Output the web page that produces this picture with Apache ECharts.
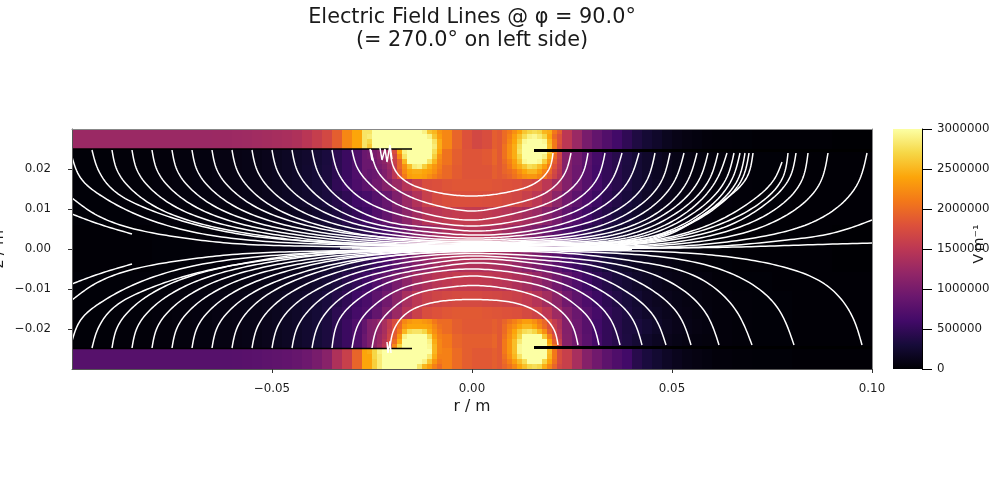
<!DOCTYPE html>
<html><head><meta charset="utf-8">
<style>html,body{margin:0;padding:0;background:#fff}#c{width:1000px;height:500px}</style>
<script src="https://cdn.jsdelivr.net/npm/echarts@6/dist/echarts.min.js"></script>
</head><body><div id="c"></div>
<script>
// field magnitudes are in units of 10 kV/m; line points are in millimetres
const inferno=['#000004','#160b39','#420a68','#6a176e','#932667','#bc3754','#dd513a','#f37819','#fca50a','#f6d746','#fcffa4'];
const xTicks=[-0.05,0,0.05,0.1];
const yTicks=[-0.02,-0.01,0,0.01,0.02];
const cbTicks=[0,500000,1000000,1500000,2000000,2500000,3000000];

const coarseR=[-100,-95,-90,-85,-80,-75,-70,-65,-60,-57.5,-55,-52.5,-50,-47.5,-45,-42.5,-40,-37.5,-35,-32.5,-30,-27.5,-25,-22.5,-20,-17.5,-15,-12.5,-10,-7.5,-5,-2.5,0,2.5,5,7.5,10,12.5,15,17.5,20,22.5,25,27.5,30,32.5,35,37.5,40,42.5,45,47.5,50,52.5,55,57.5,60,65,70,75,80,85,90,95,100];
const coarseZ=[30,25,21,17.5,14.5,10.5,6,0,-5.75,-10.5,-14.5,-17.5,-21.25,-24.75,-30];
const coarseRows=[
[125,125,125,125,125,125,125,126,127,128,130,132,134,136,140,148,158,170,190,220,240,280,310,310,310,310,310,300,250,220,195,180,170,175,190,220,260,300,300,250,200,150,125,100,85,72,60,48,36,28,22,15,11,8,6,4,3,2,1,1,1,1,0,0],
[2,2,3,3,4,5,6,8,9,10,11,13,15,18,21,24,28,33,45,55,70,90,100,120,200,300,320,320,235,205,190,182,182,185,195,230,290,320,300,230,170,110,95,78,62,50,42,35,28,22,17,13,10,8,6,5,4,3,2,2,1,1,1,1],
[2,2,3,3,4,5,6,8,9,10,11,13,15,18,21,25,29,34,45,55,70,90,105,120,190,230,240,240,220,198,188,182,182,182,190,220,250,260,240,190,150,108,92,76,60,50,42,34,28,22,17,13,10,8,6,5,4,3,2,2,1,1,1,1],
[2,2,3,3,4,5,6,8,9,10,11,13,15,18,21,25,29,34,48,57,68,80,95,110,125,145,162,175,178,182,184,184,184,184,182,180,178,172,165,150,130,108,90,75,62,50,42,35,28,22,18,14,11,9,7,6,4,3,2,2,1,1,1,1],
[2,2,3,3,4,5,6,8,9,10,11,13,15,18,21,24,28,33,40,48,58,64,75,88,105,125,142,160,172,176,178,178,178,176,175,172,168,160,150,135,115,95,80,68,56,46,38,32,26,20,16,13,10,8,7,5,4,3,2,2,1,1,1,1],
[2,2,2,3,3,4,5,6,7,8,9,10,12,14,17,20,24,28,34,42,50,58,72,85,100,115,130,145,148,153,156,156,155,153,150,146,140,132,125,112,98,82,70,58,48,40,33,28,22,18,14,11,9,7,6,5,3,2,2,1,1,1,1,1],
[1,1,1,1,2,2,3,4,5,6,7,8,9,11,13,15,18,22,27,32,38,45,55,65,80,95,110,120,130,138,142,145,145,142,138,130,122,112,102,90,78,66,55,45,38,31,26,21,17,14,11,9,7,5,4,3,2,1,1,1,1,1,0,0],
[1,1,1,1,2,2,3,4,5,6,7,8,9,11,13,15,18,22,27,32,38,45,55,65,80,95,110,120,130,136,140,142,142,140,136,130,122,112,102,90,78,66,55,45,38,31,26,21,17,14,11,9,7,5,4,3,2,1,1,1,1,1,0,0],
[2,2,2,3,3,4,5,6,7,8,9,10,12,14,17,20,24,28,34,42,50,58,72,85,100,115,130,140,148,152,156,156,155,153,150,146,140,132,122,110,96,82,70,58,48,40,33,28,22,18,14,11,9,7,6,5,3,2,2,1,1,1,1,1],
[2,2,3,3,4,5,6,8,9,10,11,13,15,18,21,24,28,33,40,48,58,66,80,95,115,135,150,160,166,170,172,172,172,170,168,165,162,155,145,132,115,95,80,68,56,46,38,32,26,20,16,13,10,8,7,5,4,3,2,2,1,1,1,1],
[2,2,3,3,4,5,6,8,9,10,11,13,15,18,21,25,29,34,45,52,62,70,85,105,125,145,162,175,180,184,186,186,186,184,182,180,178,172,165,150,128,106,90,75,62,50,42,35,28,22,18,14,11,9,7,6,4,3,2,2,1,1,1,1],
[2,2,3,3,4,5,6,8,9,10,11,13,15,18,21,25,29,34,45,55,70,85,105,130,180,220,235,235,215,200,190,185,185,185,190,205,220,235,220,185,150,108,92,76,60,50,42,34,33,27,21,16,12,10,8,6,4,3,2,2,1,1,1,1],
[2,2,3,3,4,5,6,8,9,10,11,13,15,18,21,25,29,34,45,55,70,90,110,135,200,300,320,320,235,210,195,190,190,190,195,220,260,320,300,225,170,110,95,78,62,50,42,35,28,22,17,13,10,8,6,5,4,3,2,2,1,1,1,1],
[75,75,75,75,75,75,75,75,76,77,78,80,82,84,87,92,100,112,140,160,195,240,270,300,320,320,320,320,240,215,200,190,185,185,190,205,240,300,300,260,205,160,135,110,95,80,70,60,42,33,26,19,14,10,8,6,4,3,2,2,1,1,1,1]
];

const hotLeftR=[-26.25,-25,-23.75,-22.5,-21.25,-20,-18.75,-17.5,-16.25,-15,-13.75,-12.5,-11.25,-10,-8.75,-7.5];
const hotRightR=[6.25,7.5,8.75,10,11.25,12.5,13.75,15,16.25,17.5,18.75,20,21.25,22.5];
const hotTopZ=[30,28.75,27.5,26.25,25,23.75,22.5,21.25,20,18.75,17.5];
const hotBottomZ=[-17.5,-18.75,-20,-21.25,-22.5,-23.75,-25,-26.25,-27.5,-28.75,-30];
const hotTopLeft=[
[280,300,310,310,310,310,310,310,310,310,310,290,260,250,230],
[285,310,310,310,310,310,310,310,310,310,310,310,290,260,235],
[270,310,310,310,310,310,310,310,310,310,310,310,310,280,245],
[260,300,310,310,310,310,310,310,310,310,310,310,310,285,245],
[95,100,110,125,140,175,240,290,320,320,320,320,320,275,240],
[95,100,110,120,140,165,220,280,320,320,320,320,310,265,225],
[90,95,105,115,130,160,195,250,300,320,320,310,280,250,220],
[90,95,100,110,125,155,195,225,255,285,290,265,245,230,215],
[85,90,95,105,120,150,185,220,240,245,245,240,235,225,210],
[85,90,95,105,120,150,180,210,235,240,240,235,225,215,205]
];
const hotTopRight=[
[185,200,210,225,240,260,270,275,270,250,245,210,190],
[185,200,215,235,255,275,290,295,285,270,240,200,180],
[185,200,220,240,265,295,320,320,320,295,250,210,180],
[185,205,225,245,275,320,320,320,320,300,255,210,175],
[185,205,225,245,280,320,320,320,320,310,260,210,170],
[185,205,225,245,270,320,320,320,320,290,245,200,165],
[185,200,215,235,260,295,305,305,295,265,230,190,160],
[185,195,210,230,245,260,275,270,255,235,210,180,155],
[185,195,200,210,225,240,250,250,235,215,195,170,150],
[185,190,195,205,215,225,230,230,220,205,185,165,145]
];
const hotBottomLeft=[
[105,110,120,135,155,175,195,220,230,235,235,230,225,210,200],
[105,110,120,135,155,180,200,230,240,240,240,240,235,220,205],
[105,110,120,135,160,185,210,250,275,280,280,270,245,225,210],
[105,110,125,140,165,190,230,290,310,320,320,310,275,235,215],
[105,115,125,145,170,200,245,300,320,320,320,320,290,245,220],
[105,115,130,150,170,220,270,320,320,320,320,320,295,250,220],
[245,270,290,305,320,320,320,320,320,320,320,320,300,250,220],
[240,270,285,310,320,320,320,320,320,320,320,320,285,245,215],
[240,265,285,305,320,320,320,320,320,320,320,290,260,230,210],
[240,265,285,300,320,320,320,320,320,320,280,250,235,215,200]
];
const hotBottomRight=[
[185,195,205,215,225,235,235,225,210,195,175,155,140],
[185,200,215,225,240,250,250,240,220,200,180,160,140],
[185,200,220,240,260,275,280,270,250,225,190,165,145],
[185,205,225,245,270,300,310,310,300,260,215,180,150],
[185,210,230,255,285,320,320,320,320,300,240,190,160],
[185,210,230,255,295,320,320,320,320,305,250,205,170],
[185,210,230,255,295,320,320,320,320,305,255,210,175],
[185,205,225,250,280,310,320,320,320,300,250,210,175],
[185,200,215,235,255,275,300,310,300,270,240,205,175],
[185,195,205,220,240,255,270,275,270,245,220,195,170]
];

const upperLines=[
[[-20.5,24.75],[-19.25,19.75],[-16.25,16.75],[-11.25,14.75],[-4.75,13.5],[0,13.25],[4.5,13.5],[10.25,14.5],[16.25,16.75],[19.5,20.5],[20.25,24]],
[[-25.25,24.75],[-23.75,19.75],[-19.75,15.5],[-14.75,12.75],[-7.25,10.5],[0,9.5],[10.25,11.25],[18.75,14.25],[23.25,19],[24.75,24]],
[[-30,24.75],[-28.75,20.5],[-24.75,15.5],[-19.75,11.75],[-11.25,8.75],[0,7.25],[12,9.25],[22,13],[27.5,18.5],[29,24]],
[[-35,24.75],[-33.75,19.75],[-29.75,14.25],[-23.75,10.5],[-14.75,7.75],[0,5.75],[14.5,7.75],[25.25,11.75],[31.5,18],[33.25,24]],
[[-40,24.75],[-38.75,19.75],[-35,14.25],[-28.75,9.75],[-19.75,6.5],[-8.75,5.25],[0,4.5],[16.25,6.5],[28.75,11],[35.25,17.75],[37.5,24]],
[[-45,24.75],[-43.75,19.75],[-40.25,14.75],[-34,10],[-24.25,6.25],[-13,4.5],[0,3.5],[19.5,5.5],[32,10.25],[39.25,17.25],[41.75,24]],
[[-50,24.75],[-48.75,19.75],[-45.25,14.75],[-39,10.25],[-29,6.25],[-16.75,4],[0,2.75],[7.75,3],[23.75,5.25],[36.25,9.75],[43.75,17.25],[45.75,24]],
[[-55,24.75],[-53.75,19.75],[-50.25,14.75],[-44.25,10.25],[-34.25,6.25],[-21.75,3.75],[0,2.25],[9.5,2.5],[26.25,4.25],[39.5,9.25],[47.5,17.25],[49.5,24]],
[[-60,24.75],[-58.75,19.75],[-55.25,14.75],[-49.25,10.25],[-39.25,6.25],[-26.75,3.5],[0,1.88],[12,2.13],[29.5,4],[42.75,9],[50.75,17.25],[53,24]],
[[-65,24.75],[-63.75,19.75],[-60.25,15],[-54.5,10.75],[-44.5,6.75],[-31.75,4],[-18,2.63],[0,1.63],[14.5,1.88],[32.75,3.75],[46.25,9],[54,17.25],[56.25,24]],
[[-70,24.75],[-68.75,19.75],[-65.25,15],[-59.5,10.75],[-49.5,6.75],[-36.75,4],[-21.75,2.38],[0,1.38],[15.75,1.68],[35.25,3.5],[49,9.25],[57,17.75],[59,24]],
[[-75,24.75],[-73.75,19.75],[-70.25,15],[-64.5,10.75],[-54.5,6.75],[-41.75,4],[-26.75,2.25],[0,1.2],[17,1.5],[37.75,3.25],[51.5,9.25],[59.5,17.75],[61.5,24]],
[[-80,24.75],[-78.75,19.75],[-75.25,15],[-69.5,10.75],[-59.5,6.75],[-46.75,4],[-31.75,2.13],[0,1],[18.25,1.3],[40.25,3.13],[53.75,9.25],[61.5,18],[63.75,24]],
[[-85,24.75],[-83.75,19.75],[-80.25,15],[-74.5,10.75],[-64.5,6.75],[-51.75,4],[-36.75,2],[0,0.88],[19.5,1.15],[42,3],[55.75,9.25],[63.75,18],[65.5,24]],
[[-90,24.75],[-88.75,19.75],[-85.25,15],[-79.5,10.75],[-69.5,6.75],[-56.75,4],[-41.75,2],[0,0.75],[20.75,1],[44.5,3],[57.75,9.25],[65.25,18],[67,24]],
[[-95,24.75],[-93.75,20.5],[-90.5,15.5],[-82.25,10.5],[-69.75,6.25],[-53,3],[-36.25,1.75],[0,0.65],[22,0.88],[47,3.25],[59.5,9.75],[66.75,18],[68.25,24]],
[[-100,23],[-98,18],[-93,13.5],[-84.75,9],[-69.75,4.25],[-53,2],[-33,1.13],[0,0.55],[32,1.5],[49.5,4.25],[61.5,10.75],[67.75,18],[69.25,24]],
[[-100,12.75],[-94.75,9],[-86.25,5.5],[-73.75,3],[-61.25,1.5],[-43,0.75],[0,0.47],[34.5,1.5],[49.5,3.75],[57,8],[63.75,12.75],[68.75,18],[70.25,24]],
[[-100,8.75],[-94.75,6.75],[-85,3.75]]
];
const outerLines=[
[[-33,0.25],[0,0.4],[32.75,0.88],[49.5,3],[62,7.25],[70.25,12.25],[75.75,17.75],[77.5,21.75]],
[[-30,0.22],[0,0.35],[32.75,0.75],[49.5,2.63],[62.75,6.5],[72,11.5],[77.75,18],[79,24]],
[[-28,0.2],[0,0.3],[34.5,0.68],[51.25,2.5],[64.5,6],[73.75,11.5],[79.5,18],[81,24]],
[[-26,0.18],[0,0.25],[35.25,0.55],[52.75,2],[66.25,5.25],[76.25,10.25],[82.5,17.25],[84,24]],
[[-24,0.16],[0,0.2],[36.25,0.38],[53.75,1.5],[68.75,4.25],[79.5,9],[87,16.5],[89,24]],
[[-22,0.14],[0,0.15],[41.25,0.25],[57.75,1.13],[74.5,3.5],[87.75,8],[96.5,16.5],[98.75,24]],
[[-20,0.12],[0,0.1],[45.25,0.25],[62.75,0.75],[78.75,2.25],[91.25,4.25],[100,7.25]],
[[-18,0.1],[0,0.08],[49.5,0.25],[66.25,0.5],[82.75,1],[100,1.5]]
];
const lowerLines=[
[[-20.5,-24.75],[-19.75,-20.75],[-16.25,-16],[-11.25,-13.75],[-4.75,-12.75],[0,-12.63],[7.75,-13],[14.5,-14.75],[18.25,-17.25],[20.75,-20.75],[21.5,-24]],
[[-25,-24.75],[-23.75,-19.75],[-19.75,-14.75],[-14.75,-11.5],[-7.25,-9.75],[0,-9.13],[7.75,-9.75],[15.25,-11.5],[21.25,-14.75],[25,-19],[26.5,-24]],
[[-30,-24.75],[-28.5,-19],[-23.75,-13.5],[-17.25,-9.75],[-8.75,-7.75],[0,-6.75],[9.5,-7.75],[18.75,-9.75],[25.25,-13.5],[30,-18.5],[31.75,-24]],
[[-35,-24.75],[-33.5,-18.25],[-28,-12.25],[-21.25,-8.5],[-11.25,-6],[0,-5],[11.25,-6],[22,-8.5],[29.5,-12.25],[35,-18.25],[37,-24]],
[[-40,-24.75],[-38.75,-19.75],[-35,-14.25],[-28.75,-9.75],[-19.75,-6.5],[-8.75,-4.5],[0,-3.5],[13.75,-4.75],[25.25,-7.25],[34,-11.5],[40.25,-17.75],[42.5,-24]],
[[-45,-24.75],[-43.75,-19.75],[-40.25,-14.75],[-34,-10],[-24.25,-6.25],[-13,-4],[0,-2.5],[15.25,-3.5],[28.75,-6],[38.75,-10.75],[45.75,-17.25],[48.5,-24]],
[[-50,-24.75],[-48.75,-19.75],[-45.25,-14.75],[-39,-10.25],[-29,-6],[-16.75,-3.38],[0,-1.75],[17,-2.75],[32.75,-4.75],[43.75,-9.5],[52,-17],[54.75,-24]],
[[-55,-24.75],[-53.75,-19.75],[-50.25,-14.75],[-44.25,-10.25],[-34.25,-6],[-21.75,-3],[0,-1.13],[20.25,-2],[37,-4],[49.5,-8.25],[58.75,-16.5],[61.75,-24]],
[[-60,-24.75],[-58.75,-19.75],[-55.25,-14.75],[-49.25,-10.25],[-39.25,-6],[-26.75,-2.75],[0,-0.63],[22.75,-1],[42,-3.25],[56.25,-7],[66.25,-15.75],[70,-24]],
[[-65,-24.75],[-63.75,-19.75],[-60.25,-15],[-54.5,-10.75],[-44.5,-6.5],[-31.75,-3.25],[-18,-1.5],[0,-0.38],[28.75,-0.75],[49.5,-2.25],[64.5,-6],[76.25,-14.5],[80.5,-24]],
[[-70,-24.75],[-68.75,-19.75],[-65.25,-15],[-59.5,-10.75],[-49.5,-6.5],[-36.75,-3.25],[-21.75,-1.25],[0,-0.25],[32.75,-0.38],[53.75,-1],[66.25,-2.25],[78.75,-4.75],[89.5,-9.75],[95.25,-17.25],[97.5,-24]],
[[-75,-24.75],[-73.75,-19.75],[-70.25,-15],[-64.5,-10.75],[-54.5,-6.5],[-41.75,-3.5],[-26.75,-1.5],[0,-0.2],[22,-0.15]],
[[-80,-24.75],[-78.75,-19.75],[-75.25,-15],[-69.5,-10.75],[-59.5,-6.5],[-46.75,-3.5],[-31.75,-1.5],[0,-0.18],[27,-0.13]],
[[-85,-24.75],[-83.75,-19.75],[-80.25,-15],[-74.5,-10.75],[-64.5,-6.5],[-51.75,-3.5],[-36.75,-1.38],[0,-0.15],[32,-0.12]],
[[-90,-24.75],[-88.75,-19.75],[-85.25,-15],[-79.5,-10.75],[-69.5,-6.5],[-56.75,-3.5],[-41.75,-1.25],[0,-0.12],[35,-0.1]],
[[-95,-24.75],[-93.75,-20.5],[-90.5,-15.5],[-82.25,-10.5],[-69.75,-6.25],[-53,-3],[-36.25,-1.25],[0,-0.1],[40,-0.08]],
[[-100,-23],[-98,-18],[-93,-13.5],[-84.75,-9],[-69.75,-4.25],[-53,-1.88],[-33,-0.75],[0,-0.08]],
[[-100,-12.75],[-94.75,-9],[-86.25,-5.5],[-73.75,-3],[-61.25,-1.5],[-43,-0.63],[0,-0.05]],
[[-100,-8.75],[-94.75,-6.75],[-85,-3.75]]
];
const jaggedLines=[
[[-25.5,25],[-25,22.25],[-25.25,24.5],[-24.75,22]],
[[-23,25.25],[-22.5,22.25],[-21.75,25],[-21.25,21.75],[-20.5,26],[-20,22.5]],
[[-21.25,-23.25],[-21,-26],[-20.5,-23],[-20.25,-26]]
];
const wallThin=[[[-100,25],[-15,25]],[[-100,-24.9],[-15,-24.9]]];
const wallThick=[[[15.5,24.6],[100,24.6]],[[15.5,-24.6],[100,-24.6]]];

function addCells(out,rs,zs,rows){
  rows.forEach((row,j)=>row.forEach((v,i)=>{
    out.push([rs[i]/1000,rs[i+1]/1000,zs[j]/1000,zs[j+1]/1000,v*10000]);
  }));
}
const cells=[];
addCells(cells,coarseR,coarseZ,coarseRows);
addCells(cells,hotLeftR,hotTopZ,hotTopLeft);
addCells(cells,hotRightR,hotTopZ,hotTopRight);
addCells(cells,hotLeftR,hotBottomZ,hotBottomLeft);
addCells(cells,hotRightR,hotBottomZ,hotBottomRight);

const toM=l=>l.map(p=>[p[0]/1000,p[1]/1000]);
const lineSeries=(l,o)=>Object.assign({type:'line',xAxisIndex:0,yAxisIndex:0,data:toM(l),showSymbol:false,silent:true,animation:false,clip:true,lineStyle:{color:'#fff',width:1.5},z:4},o||{});

// natural cubic spline stroke through the read-off points, in screen space
function splineAxis(t,v){
  const n=t.length,m=new Array(n).fill(0),c=new Array(n).fill(0),d=new Array(n).fill(0);
  for(let i=1;i<n-1;i++){
    const h0=t[i]-t[i-1],h1=t[i+1]-t[i];
    const b=2*(h0+h1)-h0*c[i-1];
    c[i]=h1/b;
    d[i]=(6*((v[i+1]-v[i])/h1-(v[i]-v[i-1])/h0)-h0*d[i-1])/b;
  }
  for(let i=n-2;i>0;i--)m[i]=d[i]-c[i]*m[i+1];
  return m;
}
function stroke(pts){
  const n=pts.length;
  if(n<3)return pts;
  const t=[0];
  for(let i=1;i<n;i++)t.push(t[i-1]+Math.max(Math.hypot(pts[i][0]-pts[i-1][0],pts[i][1]-pts[i-1][1]),1e-3));
  const xs=pts.map(p=>p[0]),ys=pts.map(p=>p[1]);
  const mx=splineAxis(t,xs),my=splineAxis(t,ys);
  const ev=(v,m,i,u)=>{
    const h=t[i+1]-t[i],a=(t[i+1]-u)/h,b=(u-t[i])/h;
    return a*v[i]+b*v[i+1]+((a*a*a-a)*m[i]+(b*b*b-b)*m[i+1])*h*h/6;
  };
  const out=[pts[0]];
  for(let i=0;i<n-1;i++){
    for(let s=1;s<=14;s++){
      const u=t[i]+(t[i+1]-t[i])*s/14;
      out.push([ev(xs,mx,i,u),ev(ys,my,i,u)]);
    }
  }
  return out;
}
const fieldLines=upperLines.concat(outerLines,lowerLines);

const series=[{
  type:'custom',xAxisIndex:0,yAxisIndex:0,data:cells,silent:true,animation:false,progressive:0,z:1,
  encode:{x:[0,1],y:[2,3]},
  renderItem:(p,api)=>{
    const a=api.coord([api.value(0),api.value(2)]),b=api.coord([api.value(1),api.value(3)]);
    return {type:'rect',shape:{x:Math.round(a[0]),y:Math.round(a[1]),width:Math.round(b[0])-Math.round(a[0]),height:Math.round(b[1])-Math.round(a[1])},style:{fill:api.visual('color')}};
  }
},{
  type:'custom',xAxisIndex:2,yAxisIndex:2,data:[[0,1,0,3000000]],silent:true,animation:false,z:1,
  encode:{x:[0,1],y:[2,3]},
  renderItem:(p,api)=>{
    const a=api.coord([api.value(0),api.value(2)]),b=api.coord([api.value(1),api.value(3)]);
    const stops=inferno.map((c,i)=>({offset:i/(inferno.length-1),color:c}));
    return {type:'rect',shape:{x:a[0],y:b[1],width:b[0]-a[0],height:a[1]-b[1]},style:{fill:new echarts.graphic.LinearGradient(0,1,0,0,stops)}};
  }
},{
  type:'custom',xAxisIndex:0,yAxisIndex:0,data:fieldLines.map((l,i)=>[l[0][0]/1000,l[0][1]/1000,i]),silent:true,animation:false,progressive:0,clip:true,z:4,
  encode:{x:0,y:1},
  renderItem:(p,api)=>{
    const pts=fieldLines[api.value(2)].map(q=>api.coord([q[0]/1000,q[1]/1000]));
    return {type:'polyline',shape:{points:stroke(pts)},style:{stroke:'#fff',lineWidth:1.5,fill:null,lineJoin:'round'}};
  }
}];
wallThin.forEach(l=>series.push(lineSeries(l,{lineStyle:{color:'#000',width:1.5},z:2})));
wallThick.forEach(l=>series.push(lineSeries(l,{lineStyle:{color:'#000',width:3},z:2})));
jaggedLines.forEach(l=>series.push(lineSeries(l)));

const font='"DejaVu Sans"';
const minus=s=>s.replace('-','\u2212');
const chart=echarts.init(document.getElementById('c'),null,{renderer:'canvas'});
chart.setOption({
  animation:false,backgroundColor:'#fff',
  title:{text:'Electric Field Lines @ \u03c6 = 90.0\u00b0\n(= 270.0\u00b0 on left side)',left:472,top:6,padding:0,textAlign:'center',
    textStyle:{fontFamily:font,fontSize:20.8,fontWeight:'normal',color:'#1a1a1a',lineHeight:23}},
  grid:[{left:72,top:129,width:800,height:240,outerBoundsMode:'none',containLabel:false},{left:893,top:129,width:29,height:240,outerBoundsMode:'none',containLabel:false}],
  visualMap:{type:'continuous',show:false,min:0,max:3000000,dimension:4,seriesIndex:0,inRange:{color:inferno},outOfRange:{color:'#fcffa4'}},
  xAxis:[
    {type:'value',gridIndex:0,min:-0.1,max:0.1,name:'r / m',nameLocation:'center',nameGap:30,nameMoveOverlap:false,
     nameTextStyle:{fontFamily:font,fontSize:15.6,color:'#1a1a1a'},splitLine:{show:false},z:6,
     axisLine:{show:true,onZero:false,lineStyle:{color:'#555',width:1}},
     axisTick:{show:true,length:4,customValues:xTicks,lineStyle:{color:'#333'}},
     axisLabel:{customValues:xTicks,margin:14,fontFamily:font,fontSize:11.8,color:'#1a1a1a',formatter:v=>minus(v.toFixed(2))}},
    {type:'value',gridIndex:0,min:-0.1,max:0.1,position:'top',splitLine:{show:false},z:6,axisLine:{show:true,onZero:false,lineStyle:{color:'#888',width:1}},axisTick:{show:false},axisLabel:{show:false}},
    {type:'value',gridIndex:1,min:0,max:1,show:false}
  ],
  yAxis:[
    {type:'value',gridIndex:0,min:-0.03,max:0.03,name:'z / m',nameLocation:'center',nameGap:65,nameRotate:90,nameMoveOverlap:false,
     nameTextStyle:{fontFamily:font,fontSize:15.6,color:'#1a1a1a'},splitLine:{show:false},z:6,
     axisLine:{show:true,onZero:false,lineStyle:{color:'#555',width:1}},
     axisTick:{show:true,length:4,customValues:yTicks,lineStyle:{color:'#333'}},
     axisLabel:{customValues:yTicks,margin:21,padding:[2,0,0,0],fontFamily:font,fontSize:11.8,color:'#1a1a1a',formatter:v=>minus(v.toFixed(2))}},
    {type:'value',gridIndex:0,min:-0.03,max:0.03,position:'right',splitLine:{show:false},z:6,axisLine:{show:true,onZero:false,lineStyle:{color:'#888',width:1}},axisTick:{show:false},axisLabel:{show:false}},
    {type:'value',gridIndex:1,min:0,max:3000000,position:'right',name:'V\u2009m\u207b\u00b9',nameLocation:'center',nameGap:50,nameRotate:90,nameMoveOverlap:false,
     nameTextStyle:{fontFamily:font,fontSize:14,color:'#1a1a1a',padding:[0,0,0,10]},splitLine:{show:false},z:6,
     axisLine:{show:true,onZero:false,lineStyle:{color:'#000',width:1}},
     axisTick:{show:true,length:10,customValues:cbTicks,lineStyle:{color:'#000'}},
     axisLabel:{customValues:cbTicks,margin:15,padding:[2,0,0,0],fontFamily:font,fontSize:11.8,color:'#1a1a1a',formatter:v=>String(v)}}
  ],
  series:series
});
</script></body></html>
